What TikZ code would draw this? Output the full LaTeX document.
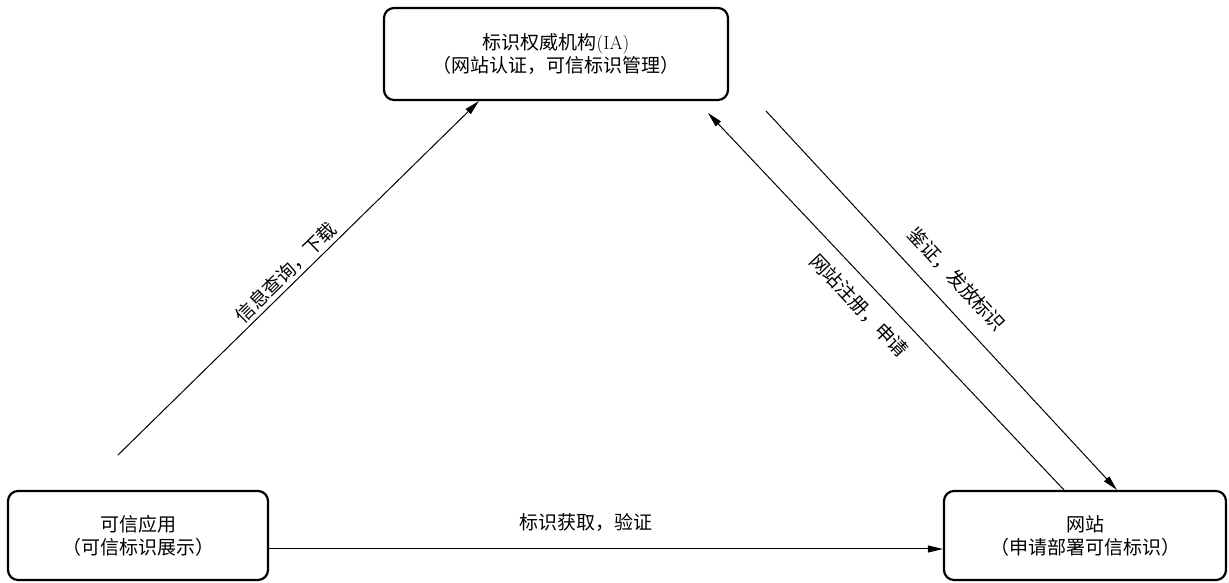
\documentclass[tikz,border=0pt]{standalone}
\usepackage{fontspec}
\newfontfamily\cjk{Noto Sans CJK SC}
\usetikzlibrary{arrows.meta,calc}

\begin{document}
\begin{tikzpicture}[x=1pt, y=1pt, line cap=round, line join=round,
    >={Triangle[length=15pt,width=7pt]},
    every node/.style={font=\cjk\fontsize{19}{23}\selectfont, align=center},
    box/.style={draw, line width=2.2pt, rounded corners=10pt, inner sep=0pt},
    link/.style={->, line width=1pt},
    lbl/.style={inner sep=2pt}]
  \useasboundingbox (0,0) rectangle (1229,583);

  % the three parties
  \node[box, minimum width=344, minimum height=92] (ia) at (556,529)
    {标识权威机构{\rmfamily(IA)}\\（网站认证，可信标识管理）};
  \node[box, minimum width=260, minimum height=89] (app) at (138,47.5)
    {可信应用\\（可信标识展示）};
  \node[box, minimum width=282, minimum height=89] (site) at (1085,47.5)
    {网站\\（申请部署可信标识）};

  % free ends
  \coordinate (querystart) at (118,128);
  \coordinate (regend) at (708,470);
  \coordinate (issuestart) at (766,472);

  % connectors
  \draw[link] (querystart) -- ($(ia.south west)+(96,0)$)
    node[lbl, pos=0.49, sloped, above=1pt] {信息查询，下载};
  \draw[link] ($(site.north west)+(121,0)$) -- (regend)
    node[lbl, pos=0.53, sloped, below=11pt] {网站注册，申请};
  \draw[link] (issuestart) -- ($(site.north west)+(174,0)$)
    node[lbl, pos=0.49, sloped, above=14pt] {鉴证，发放标识};
  \draw[link] ($(app.east)+(0,-13.5)$) -- ($(site.west)+(0,-13.5)$)
    node[lbl, pos=0.47, above=15pt] {标识获取，验证};
\end{tikzpicture}
\end{document}
